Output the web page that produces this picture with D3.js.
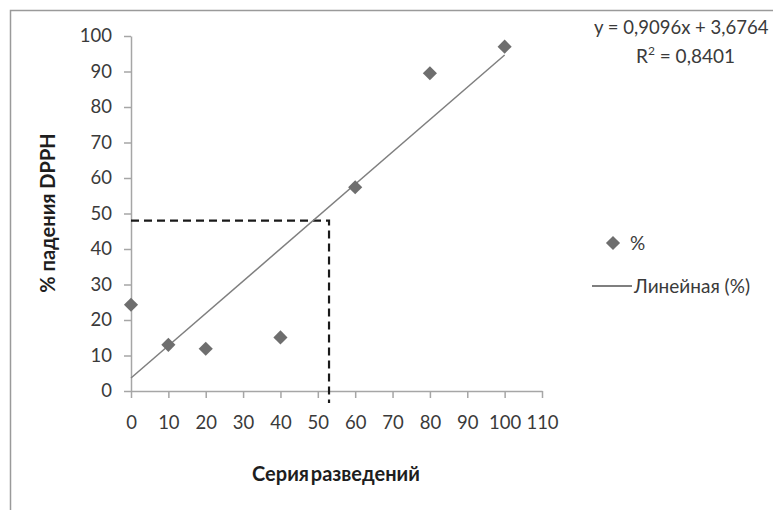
<!DOCTYPE html>
<html>
<head>
<meta charset="utf-8">
<script src="https://cdn.jsdelivr.net/npm/d3@7"></script>
<style>
  body { margin: 0; background: #fff; }
  svg { display: block; font-family: Lato, "Open Sans", sans-serif; }
</style>
</head>
<body>
<svg id="chart" width="773" height="510"></svg>
<script>
// data
const dilution = [0, 10, 20, 40, 60, 80, 100];
const percent  = [24.3, 13, 11.9, 15.1, 57.4, 89.5, 97];
const xTicks   = [0, 10, 20, 30, 40, 50, 60, 70, 80, 90, 100, 110];
const yTicks   = [0, 10, 20, 30, 40, 50, 60, 70, 80, 90, 100];
const slope    = 0.9096;
const icpt     = 3.6764;
const r2       = 0.8401;
const ic50     = [53, 48];   // dashed guide point (x, y)

const svg = d3.select('#chart');

const x = d3.scaleLinear().domain([0, 110]).range([131, 542]);
const y = d3.scaleLinear().domain([0, 100]).range([391, 36]);

const axisColor = '#a6a6a6';
const textColor = '#3a3a3a';

// outer frame (only top and left edges are visible)
svg.append('path')
  .attr('d', 'M10.5,510 V10.5 H773')
  .attr('fill', 'none')
  .attr('stroke', '#9a9a9a')
  .attr('stroke-width', 1.5);

// axes
const gx = svg.append('g')
  .attr('transform', `translate(0 ${ y(0) })`)
  .call(d3.axisBottom(x).tickValues(xTicks).tickSize(7).tickSizeOuter(0).tickPadding(18));

const gy = svg.append('g')
  .attr('transform', `translate(${ x(0) } 0)`)
  .call(d3.axisLeft(y).tickValues(yTicks).tickSize(7).tickSizeOuter(0).tickPadding(12));

[gx, gy].forEach(g =>
{
  g.select('.domain').attr('stroke', axisColor).attr('stroke-width', 1.5);
  g.selectAll('.tick line').attr('stroke', axisColor).attr('stroke-width', 1.5);
  g.selectAll('.tick text')
    .attr('fill', textColor)
    .attr('font-size', 18.5)
    .attr('font-family', 'Lato, sans-serif');
});

// x ticks hang below the axis line
gx.selectAll('.tick line').attr('y1', 0).attr('y2', 7);
// y ticks sit left of the axis line
gy.selectAll('.tick line').attr('x1', -7).attr('x2', 0);

// dashed guide lines
svg.append('path')
  .attr('d', `M${ x(0) },${ y(ic50[1]) } H${ x(ic50[0]) } V${ y(0) + 12 }`)
  .attr('fill', 'none')
  .attr('stroke', '#1a1a1a')
  .attr('stroke-width', 2.2)
  .attr('stroke-dasharray', '8,5');

// trend line
svg.append('line')
  .attr('x1', x(0)).attr('y1', y(icpt))
  .attr('x2', x(100)).attr('y2', y(slope * 100 + icpt))
  .attr('stroke', '#7f7f7f')
  .attr('stroke-width', 1.5);

// points
const diamond = d3.symbol().type(d3.symbolSquare).size(100);

svg.append('g')
  .selectAll('path')
  .data(dilution.map((d, i) => ({ x: d, y: percent[i] })))
  .join('path')
  .attr('d', diamond)
  .attr('transform', d => `translate(${ x(d.x) } ${ y(d.y) }) rotate(45)`)
  .attr('fill', '#6e6e6e');

// axis titles
svg.append('text')
  .text('Серия разведений')
  .attr('x', 336)
  .attr('y', 481)
  .attr('text-anchor', 'middle')
  .attr('font-size', 20)
  .attr('font-weight', 'bold')
  .attr('word-spacing', -3)
  .attr('fill', '#1e1e1e');

svg.append('text')
  .text('% падения DPPH')
  .attr('transform', 'translate(55 213) rotate(-90)')
  .attr('text-anchor', 'middle')
  .attr('font-size', 20)
  .attr('font-weight', 'bold')
  .attr('fill', '#1e1e1e');

// equation
const fmt = v => String(v).replace('.', ',');

svg.append('text')
  .text(`y = ${ fmt(slope) }x + ${ fmt(icpt) }`)
  .attr('x', 594)
  .attr('y', 34)
  .attr('font-size', 18.5)
  .attr('fill', textColor);

const r = svg.append('text')
  .attr('x', 636)
  .attr('y', 63)
  .attr('font-size', 19)
  .attr('fill', textColor);
r.append('tspan').text('R');
r.append('tspan').text('2').attr('font-size', 12).attr('dy', -8);
r.append('tspan').text(` = ${ fmt(r2) }`).attr('dy', 8);

// legend
svg.append('path')
  .attr('d', diamond)
  .attr('transform', 'translate(613 243) rotate(45)')
  .attr('fill', '#6e6e6e');

svg.append('text')
  .text('%')
  .attr('x', 630)
  .attr('y', 250)
  .attr('font-size', 19)
  .attr('fill', textColor);

svg.append('line')
  .attr('x1', 592).attr('x2', 632)
  .attr('y1', 286).attr('y2', 286)
  .attr('stroke', '#555')
  .attr('stroke-width', 1.5);

svg.append('text')
  .text('Линейная (%)')
  .attr('x', 634)
  .attr('y', 293)
  .attr('font-size', 19)
  .attr('fill', textColor);
</script>
</body>
</html>
